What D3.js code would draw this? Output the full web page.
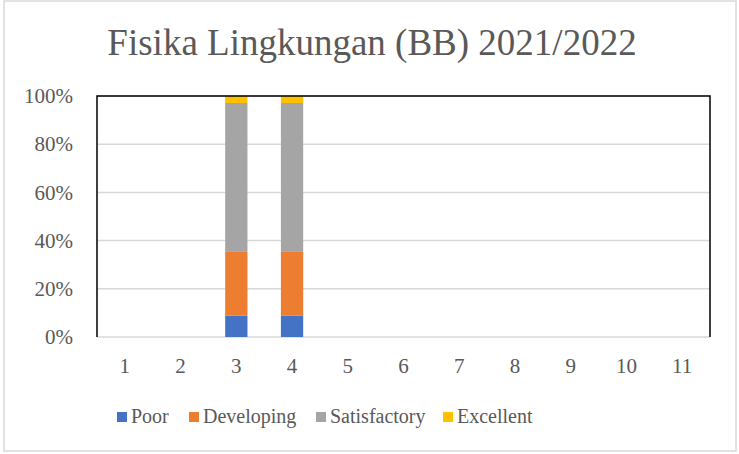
<!DOCTYPE html>
<html>
<head>
<meta charset="utf-8">
<script src="https://cdn.jsdelivr.net/npm/d3@7"></script>
<style>
  body { margin: 0; background: #fff; }
  svg text { font-family: "Liberation Serif", serif !important; fill: #595959; }
</style>
</head>
<body>
<svg width="739" height="454"></svg>
<script>
// chart data
var categories = ['1', '2', '3', '4', '5', '6', '7', '8', '9', '10', '11'];
var seriesNames = ['Poor', 'Developing', 'Satisfactory', 'Excellent'];
var poor         = [0, 0, 8.8, 8.8, 0, 0, 0, 0, 0, 0, 0];
var developing   = [0, 0, 26.5, 26.5, 0, 0, 0, 0, 0, 0, 0];
var satisfactory = [0, 0, 61.8, 61.8, 0, 0, 0, 0, 0, 0, 0];
var excellent    = [0, 0, 2.9, 2.9, 0, 0, 0, 0, 0, 0, 0];
var yTicks = [0, 20, 40, 60, 80, 100];
var colors = ['#4472C4', '#ED7D31', '#A5A5A5', '#FFC000'];

var svg = d3.select('svg');

// outer chart frame
svg.append('rect')
    .attr('x', 4).attr('y', 1)
    .attr('width', 732).attr('height', 450)
    .attr('fill', 'none')
    .attr('stroke', '#d9d9d9')
    .attr('stroke-width', 1.5);

// plot area
var plot = { l: 97, r: 710, t: 96, b: 337 };

var rows = categories.map(function(c, i) {
    return { cat: c, Poor: poor[i], Developing: developing[i], Satisfactory: satisfactory[i], Excellent: excellent[i] };
});
var stacked = d3.stack().keys(seriesNames)(rows);

var x = d3.scaleBand()
    .domain(categories)
    .range([plot.l, plot.r])
    .paddingInner(0.6)
    .paddingOuter(0.3);
var y = d3.scaleLinear().domain([0, 100]).range([plot.b, plot.t]);

// gridlines
svg.append('g').selectAll('line')
    .data(yTicks)
    .enter().append('line')
    .attr('x1', plot.l).attr('x2', plot.r)
    .attr('y1', d => y(d)).attr('y2', d => y(d))
    .attr('stroke', '#d9d9d9')
    .attr('stroke-width', 1.5);

// bars
svg.append('g').selectAll('g')
    .data(stacked)
    .enter().append('g')
    .attr('fill', (d, i) => colors[i])
    .selectAll('rect')
    .data(d => d)
    .enter().append('rect')
    .attr('x', d => x(d.data.cat))
    .attr('width', x.bandwidth())
    .attr('y', d => y(d[1]))
    .attr('height', d => y(d[0]) - y(d[1]));

// plot border: left, top, right in black
svg.append('path')
    .attr('d', 'M' + plot.l + ',' + y(0) + 'V' + y(100) + 'H' + plot.r + 'V' + y(0))
    .attr('fill', 'none')
    .attr('stroke', '#000')
    .attr('stroke-width', 1.5);

// y axis labels
var yAxis = svg.append('g')
    .attr('font-family', 'Liberation Serif')
    .attr('transform', 'translate(' + (plot.l - 24) + ',0)')
    .call(d3.axisLeft(y).tickValues(yTicks).tickSize(0).tickFormat(d => d + '%'));
yAxis.attr('font-family', 'Liberation Serif');
yAxis.select('.domain').remove();
yAxis.selectAll('text')
    .attr('x', 0)
    .attr('dy', '0.32em')
    .style('font-size', '21px')
    .attr('fill', '#595959');

// x axis labels
var xAxis = svg.append('g')
    .attr('transform', 'translate(0,' + plot.b + ')')
    .call(d3.axisBottom(x).tickSize(0));
xAxis.attr('font-family', 'Liberation Serif');
xAxis.select('.domain').remove();
xAxis.selectAll('text')
    .attr('y', 36)
    .attr('dy', 0)
    .style('font-size', '21px')
    .attr('fill', '#595959');

// title
svg.append('text')
    .attr('x', 372)
    .attr('y', 55)
    .attr('text-anchor', 'middle')
    .style('font-size', '37px')
    .text('Fisika Lingkungan (BB) 2021/2022');

// legend
var legendX = [117, 189, 316, 443];
var legend = svg.append('g').selectAll('g')
    .data(seriesNames)
    .enter().append('g')
    .attr('transform', (d, i) => 'translate(' + legendX[i] + ',412)');
legend.append('rect')
    .attr('width', 10).attr('height', 10)
    .attr('fill', (d, i) => colors[i]);
legend.append('text')
    .attr('x', 14)
    .attr('y', 11)
    .style('font-size', '20px')
    .text(d => d);
</script>
</body>
</html>
